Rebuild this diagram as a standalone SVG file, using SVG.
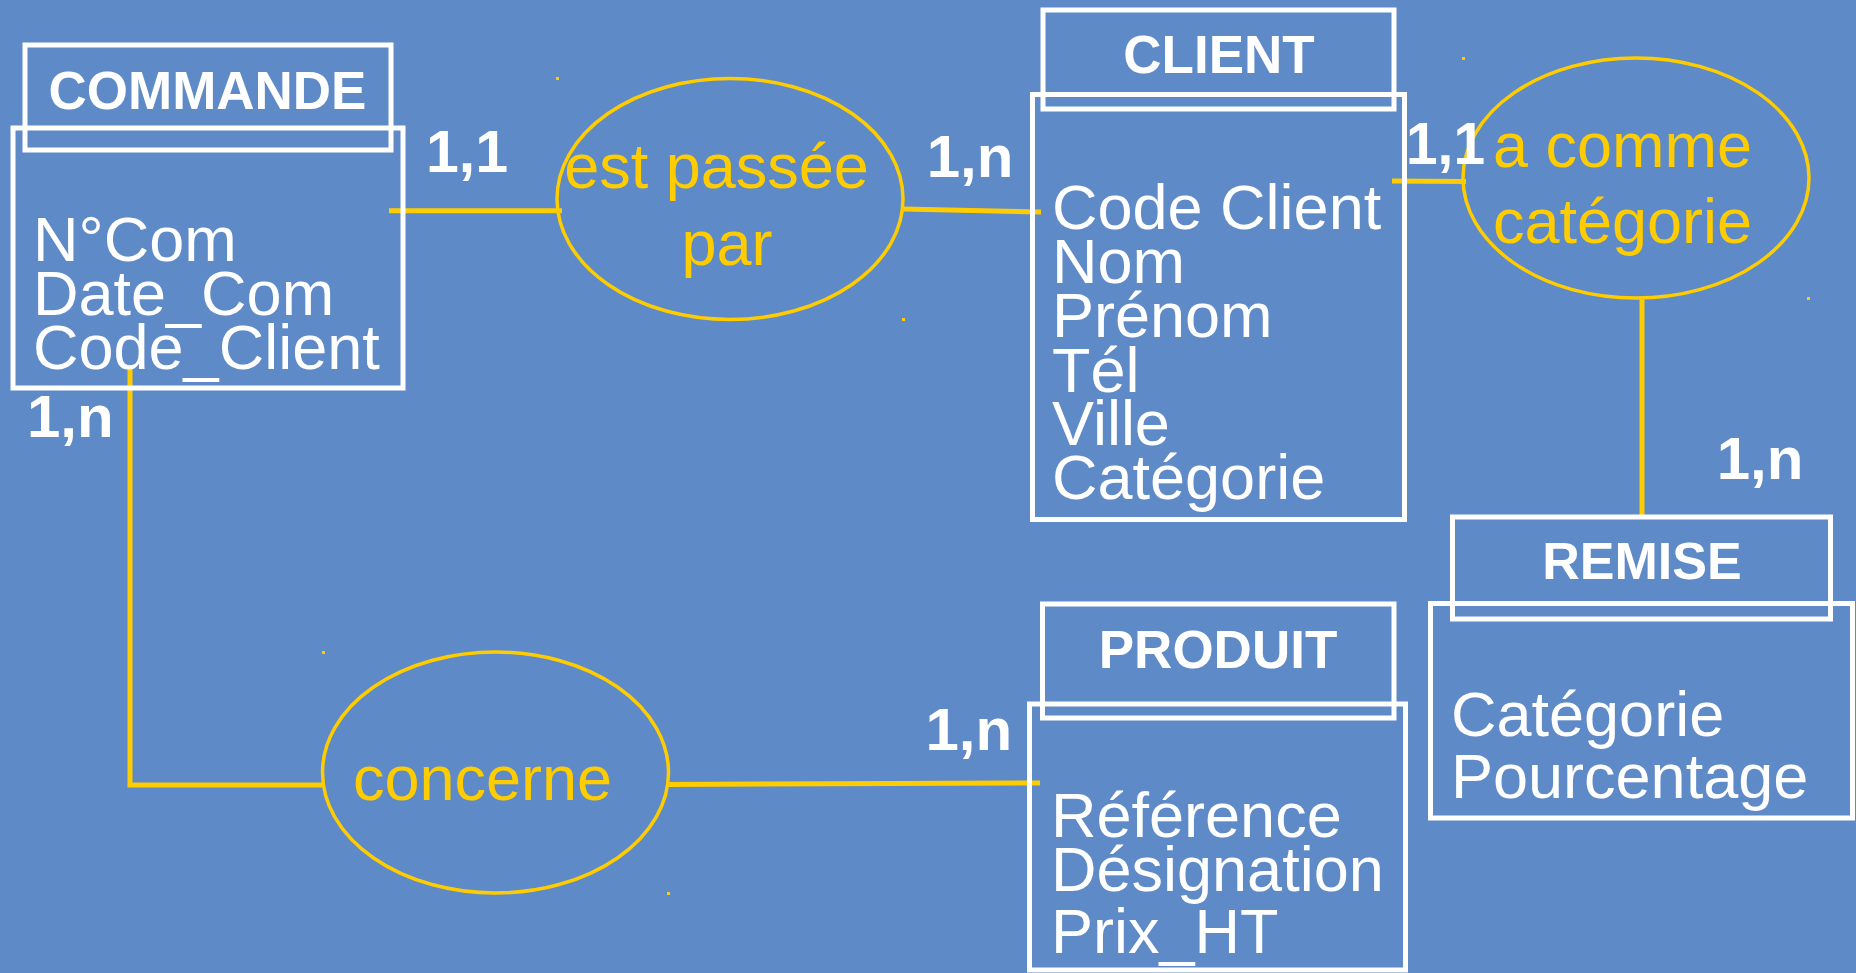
<svg xmlns="http://www.w3.org/2000/svg" width="1856" height="973" viewBox="0 0 1856 973">
<style>
.box{fill:none;stroke:#FFFFFF;stroke-width:5}
.rel{fill:none;stroke:#FFCC00;stroke-width:3.5}
.ln{fill:none;stroke:#FFCC00;stroke-width:5}
.title{font-family:"Liberation Sans",Arial,sans-serif;font-weight:bold;fill:#FFFFFF;text-anchor:middle}
.attr{font-family:"Liberation Sans",Arial,sans-serif;font-size:63px;fill:#FFFFFF}
.card{font-family:"Liberation Sans",Arial,sans-serif;font-weight:bold;font-size:60px;fill:#FFFFFF}
.rlab{font-family:"Liberation Sans",Arial,sans-serif;font-size:63px;fill:#FFCC00;text-anchor:middle}
.dot{fill:#FFCC00}
</style>
<rect x="0" y="0" width="1856" height="973" fill="#5E8AC7"/>

<g id="connectors">
<polyline class="ln" points="389,210.7 562,210.7"/>
<polyline class="ln" points="903,209 1041,212"/>
<polyline class="ln" points="1392,181 1466,181.5"/>
<polyline class="ln" points="1642,297 1642,517"/>
<polyline class="ln" points="130,367 130,785 323,785"/>
<polyline class="ln" points="667,784.5 1040,783"/>
</g>

<g id="commande">
<rect class="box" x="13" y="128" width="390" height="260"/>
<rect class="box" x="25" y="45" width="366" height="105"/>
<text class="title" x="207.5" y="109" font-size="53">COMMANDE</text>
<text class="attr" x="33" y="261">N°Com</text>
<text class="attr" x="33" y="315">Date_Com</text>
<text class="attr" x="33" y="369">Code_Client</text>
</g>

<g id="client">
<rect class="box" x="1032.5" y="94.5" width="372" height="425"/>
<rect class="box" x="1043" y="10" width="351" height="99"/>
<text class="title" x="1219" y="73" font-size="53">CLIENT</text>
<text class="attr" x="1052" y="229">Code Client</text>
<text class="attr" x="1052" y="283">Nom</text>
<text class="attr" x="1052" y="337">Prénom</text>
<text class="attr" x="1052" y="392">Tél</text>
<text class="attr" x="1052" y="445">Ville</text>
<text class="attr" x="1052" y="499">Catégorie</text>
</g>

<g id="remise">
<rect class="box" x="1430.5" y="603.5" width="422" height="214.5"/>
<rect class="box" x="1452.5" y="517" width="378" height="102"/>
<text class="title" x="1642" y="579" font-size="52">REMISE</text>
<text class="attr" x="1451" y="736">Catégorie</text>
<text class="attr" x="1451" y="798">Pourcentage</text>
</g>

<g id="produit">
<rect class="box" x="1029.5" y="704" width="376" height="266"/>
<rect class="box" x="1042.5" y="604" width="351.5" height="114"/>
<text class="title" x="1218" y="668" font-size="53">PRODUIT</text>
<text class="attr" x="1051" y="837">Référence</text>
<text class="attr" x="1051" y="891">Désignation</text>
<text class="attr" x="1051" y="953">Prix_HT</text>
</g>

<g id="est-passee-par">
<ellipse class="rel" cx="730" cy="199" rx="173" ry="120.5"/>
<text class="rlab" x="716.5" y="188">est passée</text>
<text class="rlab" x="727" y="265">par</text>
<rect class="dot" x="556" y="77" width="3" height="3"/>
<rect class="dot" x="902" y="318" width="3" height="3"/>
</g>

<g id="a-comme-categorie">
<ellipse class="rel" cx="1636" cy="178" rx="173" ry="120"/>
<text class="rlab" x="1622.5" y="167">a comme</text>
<text class="rlab" x="1622.5" y="243">catégorie</text>
<rect class="dot" x="1462" y="57" width="3" height="3"/>
<rect class="dot" x="1807" y="297" width="3" height="3"/>
</g>

<g id="concerne">
<ellipse class="rel" cx="495.5" cy="772.5" rx="173" ry="120.5"/>
<text class="rlab" x="482.5" y="800" font-size="64">concerne</text>
<rect class="dot" x="322" y="651" width="3" height="3"/>
<rect class="dot" x="667" y="892" width="3" height="3"/>
</g>

<g id="cardinalities">
<text class="card" x="426" y="172" textLength="82" lengthAdjust="spacingAndGlyphs">1,1</text>
<text class="card" x="27" y="437">1,n</text>
<text class="card" x="926.7" y="176.7">1,n</text>
<text class="card" x="1406" y="164" textLength="79" lengthAdjust="spacingAndGlyphs">1,1</text>
<text class="card" x="1716.7" y="479">1,n</text>
<text class="card" x="925.5" y="750">1,n</text>
</g>
</svg>
